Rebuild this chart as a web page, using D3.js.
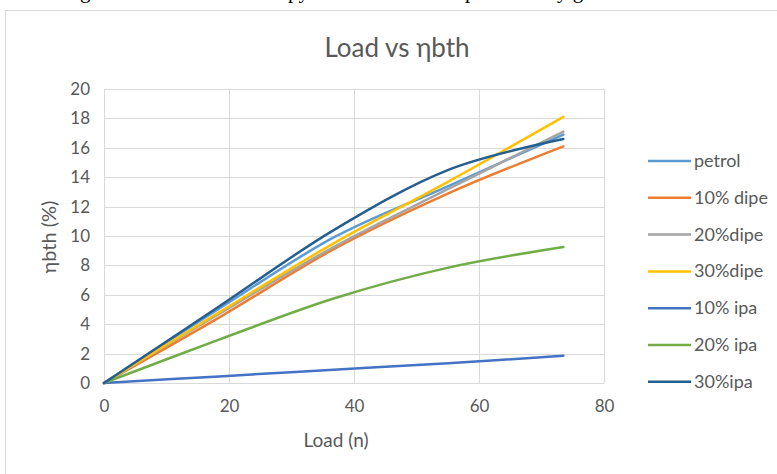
<!DOCTYPE html>
<html><head><meta charset="utf-8">
<script src="https://cdn.jsdelivr.net/npm/d3@7"></script>
<style>body{margin:0;background:#fff;} svg{display:block;}</style>
</head><body>
<script>
const loads = [0, 18.4, 36.75, 55.1, 73.5];
const seriesNames = ["petrol", "10% dipe", "20%dipe", "30%dipe", "10% ipa", "20% ipa", "30%ipa"];
const petrol  = [0, 5.05, 9.9, 13.4, 16.9];
const dipe10  = [0, 4.45, 9.1, 12.9, 16.1];
const dipe20  = [0, 4.7, 9.25, 13.2, 17.1];
const dipe30  = [0, 4.8, 9.5, 13.7, 18.1];
const ipa10   = [0, 0.45, 0.9, 1.35, 1.85];
const ipa20   = [0, 2.95, 5.75, 7.85, 9.25];
const ipa30   = [0, 5.2, 10.4, 14.5, 16.6];
const seriesValues = [petrol, dipe10, dipe20, dipe30, ipa10, ipa20, ipa30];
const colors = ["#5B9BD5", "#ED7D31", "#A5A5A5", "#FFC000", "#4472C4", "#70AD47", "#255E91"];
const xTicks = [0, 20, 40, 60, 80];
const yTicks = [0, 2, 4, 6, 8, 10, 12, 14, 16, 18, 20];

const W = 777, H = 474;
const svg = d3.select("body").append("svg").attr("width", W).attr("height", H);
const font = "Lato, 'Open Sans', sans-serif";
const grey = "#595959";

// clipped document text above the chart
const topText = [["g", 80], ["py", 288], ["p", 465], ["y g", 557]];
svg.selectAll("text.doc").data(topText).enter().append("text")
  .attr("x", d => d[1]).attr("y", -2).text(d => d[0])
  .attr("font-family", "'Liberation Serif', 'Times New Roman', serif")
  .attr("font-size", 21).attr("fill", "#000");

// chart frame
svg.append("rect").attr("x", 5.5).attr("y", 10.5).attr("width", 800).attr("height", 500)
  .attr("fill", "#fff").attr("stroke", "#d9d9d9").attr("stroke-width", 1);

const x = d3.scaleLinear().domain([0, 80]).range([104, 604]);
const y = d3.scaleLinear().domain([0, 20]).range([383, 89]);

// gridlines
svg.append("g").selectAll("line").data(yTicks).enter().append("line")
  .attr("x1", x(0)).attr("x2", x(80))
  .attr("y1", d => Math.round(y(d)) + 0.5).attr("y2", d => Math.round(y(d)) + 0.5)
  .attr("stroke", "#d9d9d9").attr("stroke-width", 1);
svg.append("g").selectAll("line").data(xTicks).enter().append("line")
  .attr("y1", y(0)).attr("y2", y(20))
  .attr("x1", d => Math.round(x(d)) + 0.5).attr("x2", d => Math.round(x(d)) + 0.5)
  .attr("stroke", "#d9d9d9").attr("stroke-width", 1);

// axes
const xAxis = svg.append("g").attr("transform", `translate(0,${y(0)})`)
  .call(d3.axisBottom(x).tickValues(xTicks).tickSize(0).tickPadding(17));
xAxis.select(".domain").attr("stroke", "#d9d9d9");
xAxis.selectAll("text").attr("font-family", font).attr("font-size", 17).attr("fill", grey);

const yAxis = svg.append("g").attr("transform", `translate(${x(0)},0)`)
  .call(d3.axisLeft(y).tickValues(yTicks).tickSize(0).tickPadding(14));
yAxis.select(".domain").remove();
yAxis.selectAll("text").attr("font-family", font).attr("font-size", 17).attr("fill", grey);

// lines
const line = d3.line().x(d => x(d[0])).y(d => y(d[1])).curve(d3.curveCardinal.tension(0));
seriesValues.forEach((vals, i) => {
  svg.append("path").datum(loads.map((l, j) => [l, vals[j]]))
    .attr("d", line).attr("fill", "none").attr("stroke", colors[i])
    .attr("stroke-width", 2.5).attr("stroke-linecap", "round");
});

// title
svg.append("text").attr("x", 397).attr("y", 57).attr("text-anchor", "middle")
  .attr("font-family", font).attr("font-size", 26).attr("fill", grey).text("Load vs ηbth");

// axis titles
svg.append("text").attr("x", 336).attr("y", 447).attr("text-anchor", "middle")
  .attr("font-family", font).attr("font-size", 19).attr("fill", grey).text("Load (n)");
svg.append("text").attr("transform", "translate(56,237) rotate(-90)").attr("text-anchor", "middle")
  .attr("font-family", font).attr("font-size", 20).attr("fill", grey).text("ηbth (%)");

// legend
const lg = svg.append("g");
seriesNames.forEach((n, i) => {
  const ly = 161 + i * 36.8;
  lg.append("line").attr("x1", 648).attr("x2", 691).attr("y1", ly).attr("y2", ly)
    .attr("stroke", colors[i]).attr("stroke-width", 2.5);
  lg.append("text").attr("x", 694).attr("y", ly + 6).attr("font-family", font)
    .attr("font-size", 18).attr("fill", grey).text(n);
});
</script>
</body></html>
